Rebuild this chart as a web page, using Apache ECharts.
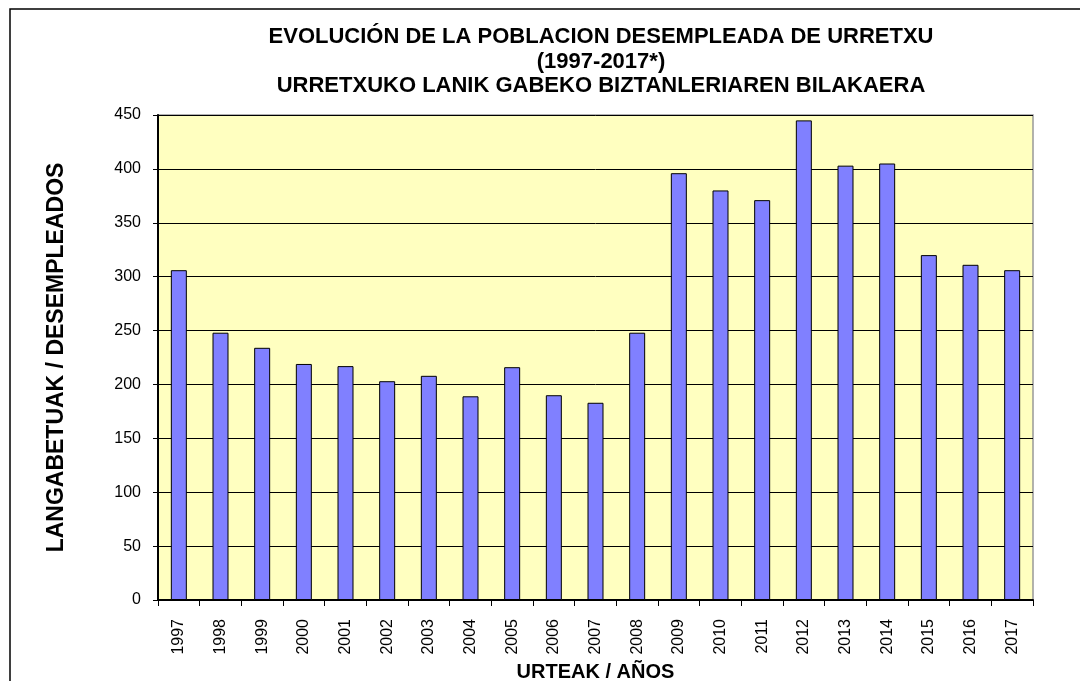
<!DOCTYPE html>
<html>
<head>
<meta charset="utf-8">
<script src="https://cdn.jsdelivr.net/npm/echarts@6/dist/echarts.min.js"></script>
<style>
  html, body { margin: 0; padding: 0; background: #fff; }
  #chart { width: 1080px; height: 681px; }
</style>
</head>
<body>
<div id="chart"></div>
<script>
// años
const years = ['1997', '1998', '1999', '2000', '2001', '2002', '2003', '2004', '2005', '2006', '2007',
  '2008', '2009', '2010', '2011', '2012', '2013', '2014', '2015', '2016', '2017']
// desempleados por año
const unemployed = [306, 248, 234, 219, 217, 203, 208, 189, 216, 190, 183,
  248, 396, 380, 371, 445, 403, 405, 320, 311, 306]
const yTicks = { min: 0, max: 450, interval: 50 }

const font = 'Arial, "Liberation Sans", sans-serif'

const chart = echarts.init(document.getElementById('chart'))

const option = {
  backgroundColor: '#ffffff',
  animation: false,
  title: {
    text: 'EVOLUCIÓN DE LA POBLACION DESEMPLEADA DE URRETXU\n(1997-2017*)\nURRETXUKO LANIK GABEKO BIZTANLERIAREN BILAKAERA',
    left: 596,
    top: 20,
    textAlign: 'center',
    textStyle: {
      fontFamily: font,
      fontSize: 22,
      fontWeight: 'bold',
      color: '#000',
      lineHeight: 24.5
    }
  },
  graphic: [
    {
      type: 'rect',
      shape: { x: 10, y: 9, width: 1100, height: 700 },
      style: { fill: 'none', stroke: '#000', lineWidth: 1.5 },
      silent: true
    }
  ],
  grid: {
    left: 158,
    right: 47,
    top: 115,
    bottom: 81,
    outerBoundsMode: 'none',
    containLabel: false,
    show: true,
    backgroundColor: '#FFFFC0',
    borderColor: '#999',
    borderWidth: 1.5
  },
  xAxis: {
    type: 'category',
    data: years,
    name: 'URTEAK / AÑOS',
    nameLocation: 'middle',
    nameGap: 62,
    nameTextStyle: {
      fontFamily: font,
      fontSize: 20,
      fontWeight: 'bold',
      color: '#000'
    },
    axisLine: { lineStyle: { color: '#000', width: 2 } },
    axisTick: { show: true, alignWithLabel: false, length: 6, lineStyle: { color: '#000' } },
    axisLabel: {
      rotate: 90,
      margin: 19,
      fontFamily: font,
      fontSize: 16,
      color: '#000',
      interval: 0
    },
    splitLine: { show: false }
  },
  yAxis: {
    type: 'value',
    min: yTicks.min,
    max: yTicks.max,
    interval: yTicks.interval,
    name: 'LANGABETUAK / DESEMPLEADOS',
    nameLocation: 'middle',
    nameGap: 90,
    nameTextStyle: {
      fontFamily: font,
      fontSize: 23,
      fontWeight: 'bold',
      color: '#000'
    },
    axisLine: { show: true, lineStyle: { color: '#000', width: 2 } },
    axisTick: { show: true, length: 5, lineStyle: { color: '#000' } },
    axisLabel: {
      margin: 17,
      fontFamily: font,
      fontSize: 16,
      color: '#000'
    },
    splitLine: { show: true, lineStyle: { color: '#000', width: 1 } }
  },
  series: [
    {
      type: 'bar',
      data: unemployed,
      barWidth: 16,
      itemStyle: {
        color: '#8080FF',
        borderColor: '#000',
        borderWidth: 1
      }
    }
  ]
}

chart.setOption(option)
</script>
</body>
</html>
